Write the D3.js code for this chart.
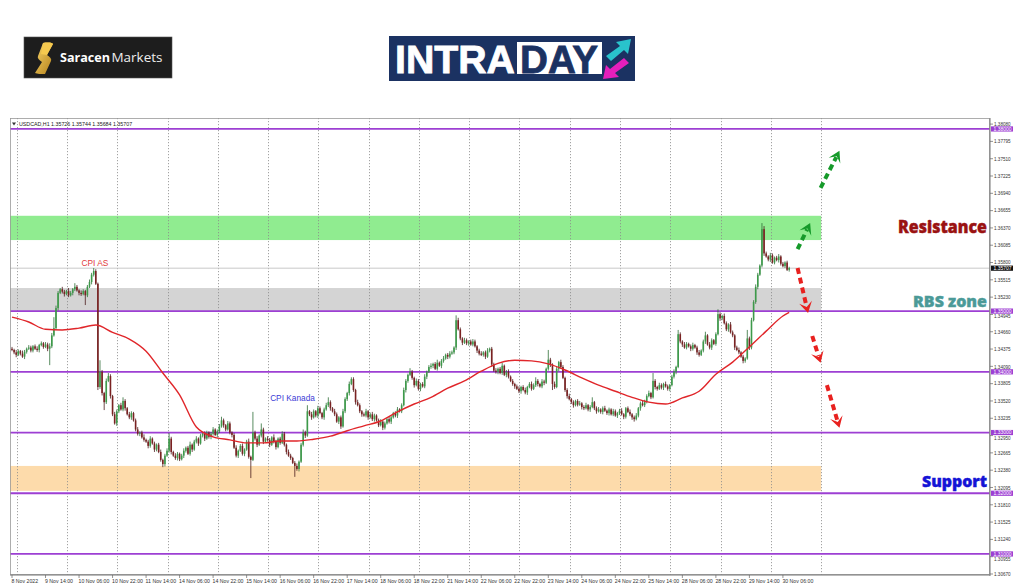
<!DOCTYPE html>
<html><head><meta charset="utf-8">
<script src="https://cdn.jsdelivr.net/npm/d3@7"></script>
<style>html,body{margin:0;padding:0;background:#fff;}svg{display:block}</style>
</head><body>
<svg id="c" width="1024" height="587"></svg>
<script>
// ---------------- DATA ----------------
const headerText = "USDCAD,H1  1.35726 1.35744 1.35684 1.35707";
const basePrice = 1.3;          // prices stored as pips above basePrice
const firstOpen = 438;
const closePips = [
436,432,428,434,430,425,433,438,440,435,
442,438,436,444,447,441,445,438,442,460,
472,505,530,536,532,528,533,526,530,536,
540,534,530,528,533,526,540,548,560,566,
545,375,400,365,350,385,393,360,330,315,
335,345,338,352,340,330,325,332,320,305,
298,300,292,288,285,278,290,282,272,280,
268,255,248,262,270,290,268,262,258,265,
256,262,270,275,265,280,272,285,290,282,
295,298,290,300,293,298,305,296,302,310,
320,312,305,315,300,296,275,262,270,278,
265,272,285,260,255,300,290,280,295,305,
285,290,288,280,292,285,276,290,283,298,
280,268,262,258,250,245,240,252,280,300,
295,335,330,325,335,328,340,332,325,338,
345,350,340,335,330,318,325,310,335,355,
365,380,388,370,350,345,335,330,328,335,
325,330,322,328,320,312,318,308,315,322,
318,325,332,328,338,335,345,370,385,395,
400,390,378,385,372,380,376,392,400,408,
410,413,405,415,410,418,422,428,425,430,
432,440,485,470,455,448,452,447,450,445,
450,442,435,430,428,432,425,435,438,412,
402,400,405,398,410,395,400,392,385,380,
376,372,368,375,370,366,375,380,372,378,
385,380,376,384,382,405,420,412,380,375,
405,416,408,390,370,360,355,350,345,352,
346,348,342,340,345,338,342,350,340,335,
338,334,340,336,332,338,330,335,328,332,
336,330,326,340,334,330,325,322,328,340,
348,345,352,360,365,358,385,375,372,378,
374,380,376,372,378,392,400,408,462,450,
445,440,446,442,438,444,440,432,428,435,
450,460,445,440,452,446,462,495,488,492,
480,470,478,465,460,440,436,432,425,418,
422,455,440,485,515,540,560,575,635,595,
590,585,592,580,588,584,590,578,574,580,
568,571];
const upWick = [
3,2,4,3,2,5,3,2,4,3, 2,3,4,2,3,2,4,3,5,4, 18,4,3,2,4,3,2,5,3,2, 6,3,2,4,3,2,3,4,3,5,
3,2,19,3,2,4,5,3,2,4, 3,2,4,6,3,2,4,3,2,3, 4,2,3,5,2,3,4,2,3,2, 3,4,2,3,4,9,3,2,4,3,
2,3,4,2,3,5,2,3,4,2, 3,2,4,3,2,3,4,2,3,4, 6,3,2,4,3,2,3,4,2,3, 4,2,3,5,2,34,3,4,2,10,
3,2,4,3,2,5,3,2,3,4, 3,2,4,3,2,3,4,2,3,5, 3,10,2,4,3,2,4,3,2,3, 4,8,3,2,4,3,2,3,4,3,
2,4,3,3,2,4,3,2,3,4, 2,3,4,3,2,3,4,2,3,2, 4,3,2,3,4,2,3,4,3,2, 6,3,2,4,3,2,3,4,2,3,
4,2,3,5,2,3,4,2,3,4, 3,2,8,4,3,2,4,3,2,3, 4,3,2,3,4,2,3,4,2,3, 3,4,2,3,5,2,3,4,2,3,
2,3,4,2,3,4,2,3,4,3, 6,3,2,4,3,2,16,3,2,4, 3,2,4,3,2,3,4,2,3,2, 3,4,2,3,4,2,3,8,2,3,
4,2,3,4,2,3,2,4,3,2, 3,4,2,2,3,4,2,3,4,2, 3,4,2,3,4,2,13,3,2,4, 3,2,4,3,2,3,4,2,7,3,
2,4,3,2,3,4,2,3,4,2, 3,6,2,4,3,2,3,8,3,2, 4,3,2,4,3,2,3,4,2,3, 2,14,3,4,3,4,3,2,10,5,
3,2,4,3,2,3,4,2,3,2, 3,2];
const downWick = [
2,3,4,2,3,2,4,3,2,3, 3,2,3,4,2,3,2,4,27,3, 2,3,4,2,3,4,2,3,2,4, 3,2,4,3,2,16,3,2,4,3,
2,5,3,4,13,3,2,4,3,2, 4,3,2,3,4,2,3,4,2,3, 3,4,2,3,2,4,3,2,4,3, 2,3,5,4,2,3,4,2,3,4,
3,2,4,3,2,3,4,2,3,4, 2,3,4,2,3,4,3,2,4,3, 2,4,3,2,3,4,2,3,4,2, 3,4,2,3,30,2,3,4,2,3,
4,2,3,4,2,3,4,2,3,2, 3,4,2,3,2,18,3,4,2,3, 4,2,3,4,2,3,4,2,3,4, 2,3,4,2,3,2,4,4,2,3,
3,4,2,3,4,2,3,4,2,3, 4,2,3,4,2,3,2,4,3,2, 3,4,2,3,4,2,3,2,4,3, 2,3,4,2,3,4,2,3,4,2,
3,4,2,3,2,4,3,2,4,3, 2,3,4,2,3,4,2,3,4,2, 3,2,4,3,2,3,4,2,3,4, 2,3,4,2,3,2,4,3,2,3,
4,2,3,4,2,3,4,2,3,2, 3,4,2,3,4,2,3,4,10,3, 2,4,3,2,3,4,2,3,4,2, 3,2,4,3,2,3,4,2,3,4,
2,3,4,2,3,4,2,3,2,4, 3,2,4,3,2,3,4,4,2,3, 4,2,3,4,2,3,2,4,3,2, 3,4,2,3,4,2,3,4,2,3,
4,2,3,2,4,3,2,4,3,2, 3,4,2,3,4,2,3,2,4,3, 2,3,4,2,3,4,2,3,2,4, 3,2,4,3,2,3,4,2,3,4,
2,3,4,2,3,2,4,3,2,3, 2,3];
// moving average (red line), sampled bars and values in pips
const maBars = [0,8,16,24,32,40,48,56,64,72,80,88,96,104,112,120,128,136,144,152,160,168,176,184,192,200,208,216,224,232,240,248,256,264,272,280,288,296,304,312,320,328,336,344,352,360,368,371];
const maPips = [490,482,470,469,472,477,465,454,434,398,362,309,293,288,283,283,286,286,289,294,303,311,319,334,347,358,373,385,401,414,419,418,413,403,390,378,368,358,350,347,357,368,396,416,441,467,492,498];
const levelPrices = [1.38,1.35,1.34,1.33,1.32,1.31];
const levelLabels = ["1.38000","1.35000","1.34000","1.33000","1.32000","1.31000"];
const priceTicks = ["1.38080","1.37795","1.37510","1.37225","1.36940","1.36655","1.36370","1.36085","1.35800","1.35515","1.35230","1.34945","1.34660","1.34375","1.34090","1.33805","1.33520","1.33235","1.32950","1.32665","1.32380","1.32095","1.31810","1.31525","1.31240","1.30955","1.30670"];
const timeLabels = ["8 Nov 2022","9 Nov 14:00","10 Nov 06:00","10 Nov 22:00","11 Nov 14:00","14 Nov 06:00","14 Nov 22:00","15 Nov 14:00","16 Nov 06:00","16 Nov 22:00","17 Nov 14:00","18 Nov 06:00","18 Nov 22:00","21 Nov 14:00","22 Nov 06:00","22 Nov 22:00","23 Nov 14:00","24 Nov 06:00","24 Nov 22:00","25 Nov 14:00","28 Nov 06:00","28 Nov 22:00","29 Nov 14:00","30 Nov 06:00"];
const labelEveryBars = 16;
const lastPrice = 1.35707;
const lastPriceLabel = "1.35707";
const zoneNames = ["resistance","rbs","support"];
const zoneTop = [1.3657,1.3538,1.3245];
const zoneBottom = [1.3617,1.3500,1.3204];
const zoneEndBar = 386.25;
const gridStartBar = 2.25, gridEveryBars = 24, gridCount = 17;
const eventNames = ["CPI AS","CPI Kanada"];
const eventBars = [39.6,133.9];
const eventPrices = [1.3574,1.3352];
const arrowNames = ["up1","up2","down1","down2","down3"];
const arrowFrom = [[386,1.3703],[375,1.3602],[375,1.3571],[382,1.3459],[389,1.3378]];
const arrowTo   = [[395,1.3764],[381,1.3645],[380,1.3497],[386,1.3415],[395,1.3308]];

// ---------------- LAYOUT / STYLE ----------------
const L=10, R=990, T=118, B=575;
const svg = d3.select("#c");
const x = d3.scaleLinear().domain([0,371]).range([12,789.2]);
const y = d3.scaleLinear().domain([1.3067,1.3808]).range([574,124.1]);
const px = p => basePrice + p/10000;
const zoneColor = {resistance:"#90ec90", rbs:"#d4d4d4", support:"#fddbab"};
const purple = "#9d3fd3";
const axisFont = "'Liberation Sans', Arial, sans-serif";

svg.append("rect").attr("width",1024).attr("height",587).attr("fill","#fff");

// ---- logos ----
const defs = svg.append("defs");
const g1 = defs.append("linearGradient").attr("id","gold").attr("x1","0").attr("y1","0").attr("x2","1").attr("y2","1");
g1.append("stop").attr("offset","0").attr("stop-color","#f9d66a");
g1.append("stop").attr("offset","1").attr("stop-color","#b3801a");
svg.append("rect").attr("x",24).attr("y",37).attr("width",148).attr("height",41).attr("fill","#1d1d1d").attr("stroke","#555").attr("stroke-width",0.6);
svg.append("path").attr("d","M43 43 C49 42 53 43 53 44 L47 55 C50 57 52 59 51 61 L45 74 C41 74 37 74 35 73 L42 62 C39 60 37 58 38 56 Z").attr("fill","url(#gold)");
svg.append("path").attr("d","M43 43 C49 42 53 43 53 44 L47 55 L41 54 Z").attr("fill","#f5c94f");
svg.append("text").attr("x",60).attr("y",62).attr("font-family","'Open Sans',sans-serif").attr("font-weight",700).attr("font-size",13).attr("fill","#fff").attr("textLength",50).attr("lengthAdjust","spacingAndGlyphs").text("Saracen");
svg.append("text").attr("x",111.5).attr("y",62).attr("font-family","'Open Sans',sans-serif").attr("font-weight",400).attr("font-size",13).attr("fill","#eee").attr("textLength",51).attr("lengthAdjust","spacingAndGlyphs").text("Markets");

svg.append("rect").attr("x",389).attr("y",36).attr("width",246).attr("height",45).attr("fill","#1b3262");
svg.append("text").attr("x",395).attr("y",72.5).attr("font-family","'Liberation Sans',Arial,sans-serif").attr("font-weight",700).attr("font-size",38).attr("fill","#fff").attr("stroke","#fff").attr("stroke-width",0.8).attr("textLength",120).attr("lengthAdjust","spacingAndGlyphs").text("INTRA");
svg.append("rect").attr("x",517).attr("y",42).attr("width",85).attr("height",32).attr("fill","#fff");
svg.append("text").attr("x",520).attr("y",72.5).attr("font-family","'Liberation Sans',Arial,sans-serif").attr("font-weight",700).attr("font-size",38).attr("fill","#1b3262").attr("stroke","#1b3262").attr("stroke-width",0.8).attr("textLength",78).attr("lengthAdjust","spacingAndGlyphs").text("DAY");
svg.append("path").attr("d","M606 56 L620 46 L616 42 L631 39 L628 54 L624 50 L611 61 Z").attr("fill","#29c3cc");
svg.append("path").attr("d","M629 63 L615 73 L619 77 L603 79 L606 65 L610 69 L624 58 Z").attr("fill","#e51fbb");

// ---- chart frame ----
const plot = svg.append("g");
defs.append("clipPath").attr("id","pc").append("rect").attr("x",L).attr("y",T).attr("width",R-L).attr("height",B-T);
const clip = plot.append("g").attr("clip-path","url(#pc)");

// zones
zoneNames.forEach((n,i)=>{
  clip.append("rect").attr("x",L).attr("width",x(zoneEndBar)-L)
    .attr("y",y(zoneTop[i])).attr("height",y(zoneBottom[i])-y(zoneTop[i]))
    .attr("fill",zoneColor[n]);
});
// vertical dotted grid
d3.range(gridCount).forEach(k=>{
  const gx = Math.round(x(gridStartBar+k*gridEveryBars))+0.5;
  clip.append("line").attr("x1",gx).attr("x2",gx).attr("y1",T).attr("y2",B)
    .attr("stroke","#8c8c8c").attr("stroke-width",0.8).attr("stroke-dasharray","1.2,1.8");
});
// last price line
clip.append("line").attr("x1",L).attr("x2",R).attr("y1",y(lastPrice)).attr("y2",y(lastPrice)).attr("stroke","#c8c8c8").attr("stroke-width",1);
// purple levels
levelPrices.forEach(v=>{
  clip.append("line").attr("x1",L).attr("x2",R).attr("y1",y(v)).attr("y2",y(v)).attr("stroke",purple).attr("stroke-width",1.8);
});

// candles
const candles = closePips.map((c,i)=>{
  const o = i===0 ? firstOpen : closePips[i-1];
  return {i, o:px(o), c:px(c), h:px(Math.max(o,c)+upWick[i]), l:px(Math.min(o,c)-downWick[i])};
});
const cg = clip.append("g");
cg.selectAll("line.w").data(candles).join("line").attr("class","w")
  .attr("x1",d=>x(d.i)).attr("x2",d=>x(d.i)).attr("y1",d=>y(d.h)).attr("y2",d=>y(d.l))
  .attr("stroke",d=>d.c>=d.o?"#2f6e37":"#4a1c1c").attr("stroke-width",0.8);
cg.selectAll("rect.b").data(candles).join("rect").attr("class","b")
  .attr("x",d=>x(d.i)-0.8).attr("width",1.6)
  .attr("y",d=>y(Math.max(d.o,d.c))).attr("height",d=>Math.max(0.8,Math.abs(y(d.o)-y(d.c))))
  .attr("fill",d=>d.c>=d.o?"#3d9a4a":"#7a2222");

// moving average
const maLine = d3.line().x(d=>x(d[0])).y(d=>y(px(d[1]))).curve(d3.curveMonotoneX);
clip.append("path").datum(maBars.map((b,i)=>[b,maPips[i]])).attr("d",maLine)
  .attr("fill","none").attr("stroke","#e0262a").attr("stroke-width",1.4);

// frame lines
plot.append("rect").attr("x",L+0.5).attr("y",T+0.5).attr("width",R-L-1).attr("height",B-T-1).attr("fill","none").attr("stroke","#9a9a9a").attr("stroke-width",0.8);
plot.append("line").attr("x1",R).attr("x2",R).attr("y1",T).attr("y2",B+1).attr("stroke","#777").attr("stroke-width",1);
plot.append("line").attr("x1",L).attr("x2",R).attr("y1",B).attr("y2",B).attr("stroke","#777").attr("stroke-width",1);

// header
plot.append("path").attr("d",`M12 122.5 L16 122.5 L14 125.5 Z`).attr("fill","#333");
plot.append("text").attr("x",19).attr("y",126).attr("font-family",axisFont).attr("font-size",5.3).attr("fill","#222").text(headerText);

// right axis ticks & labels (labels that fall under a level box are nudged just below it)
priceTicks.forEach(t=>{
  const v=+t, yy=y(v);
  let ty = yy+1.8;
  levelPrices.forEach(lv=>{
    const ly=y(lv);
    if (Math.abs(yy-ly) < 6) ty = yy>ly ? ly+2.6+4.4 : ly-2.6-0.6;
  });
  plot.append("line").attr("x1",R).attr("x2",R+3).attr("y1",yy).attr("y2",yy).attr("stroke","#666").attr("stroke-width",0.7);
  plot.append("text").attr("x",R+4).attr("y",ty).attr("font-family",axisFont).attr("font-size",4.6).attr("fill","#333").text(t);
});
levelPrices.forEach((v,i)=>{
  const yy=y(v);
  plot.append("rect").attr("x",R+1).attr("y",yy-2.6).attr("width",22).attr("height",5.2).attr("fill",purple);
  plot.append("text").attr("x",R+3.5).attr("y",yy+1.8).attr("font-family",axisFont).attr("font-size",5.0).attr("fill","#fff").text(levelLabels[i]);
});
{
  const yy=y(lastPrice);
  plot.append("rect").attr("x",R+1).attr("y",yy-2.6).attr("width",22).attr("height",5.2).attr("fill","#111");
  plot.append("text").attr("x",R+3.5).attr("y",yy+1.8).attr("font-family",axisFont).attr("font-size",5.0).attr("fill","#fff").text(lastPriceLabel);
}
// bottom axis
timeLabels.forEach((t,k)=>{
  const xx = x(k*labelEveryBars);
  plot.append("line").attr("x1",xx).attr("x2",xx).attr("y1",B).attr("y2",B+3).attr("stroke","#666").attr("stroke-width",0.7);
  plot.append("text").attr("x",xx-0.5).attr("y",B+7.5).attr("font-family",axisFont).attr("font-size",5.2).attr("fill","#333").text(t);
});

// event labels
const eventColor = {"CPI AS":"#e23b3b","CPI Kanada":"#3b3bd6"};
eventNames.forEach((n,i)=>{
  plot.append("text").attr("x",x(eventBars[i])).attr("y",y(eventPrices[i])).attr("text-anchor","middle")
    .attr("font-family","'Liberation Sans',Arial,sans-serif").attr("font-size",8.3).attr("fill",eventColor[n]).text(n);
});

// arrows
const arrowColor = {up1:"#169a2a",up2:"#169a2a",down1:"#e8211f",down2:"#e8211f",down3:"#e8211f"};
arrowNames.forEach((n,i)=>{
  const sx=x(arrowFrom[i][0]), sy=y(arrowFrom[i][1]), tx=x(arrowTo[i][0]), ty=y(arrowTo[i][1]);
  const dx=tx-sx, dy=ty-sy, len=Math.hypot(dx,dy), ux=dx/len, uy=dy/len, nx=-uy, ny=ux;
  const ex=tx-ux*7, ey=ty-uy*7;
  plot.append("line").attr("x1",sx).attr("y1",sy).attr("x2",ex).attr("y2",ey)
    .attr("stroke",arrowColor[n]).attr("stroke-width",4).attr("stroke-dasharray","6,4");
  const hl=11, hw=6.5, notch=6;
  const pts=[[tx,ty],[tx-ux*hl+nx*hw,ty-uy*hl+ny*hw],[tx-ux*notch,ty-uy*notch],[tx-ux*hl-nx*hw,ty-uy*hl-ny*hw]];
  plot.append("polygon").attr("points",pts.map(p=>p.join(",")).join(" ")).attr("fill",arrowColor[n]);
});

// zone titles
const bigFont = "'Open Sans','Noto Sans',sans-serif";
plot.append("text").attr("x",898).attr("y",232.5).attr("font-family",bigFont).attr("font-weight",800).attr("font-size",17).attr("fill","#9a1212").attr("stroke","#9a1212").attr("stroke-width",0.4).attr("textLength",89).attr("lengthAdjust","spacingAndGlyphs").text("Resistance");
plot.append("text").attr("x",913).attr("y",306.5).attr("font-family",bigFont).attr("font-weight",800).attr("font-size",16).attr("fill","#4b9a98").attr("stroke","#4b9a98").attr("stroke-width",0.4).attr("textLength",74).attr("lengthAdjust","spacingAndGlyphs").text("RBS zone");
plot.append("text").attr("x",922).attr("y",487).attr("font-family",bigFont).attr("font-weight",800).attr("font-size",16).attr("fill","#1414d6").attr("stroke","#1414d6").attr("stroke-width",0.4).attr("textLength",65).attr("lengthAdjust","spacingAndGlyphs").text("Support");
</script>
</body></html>
